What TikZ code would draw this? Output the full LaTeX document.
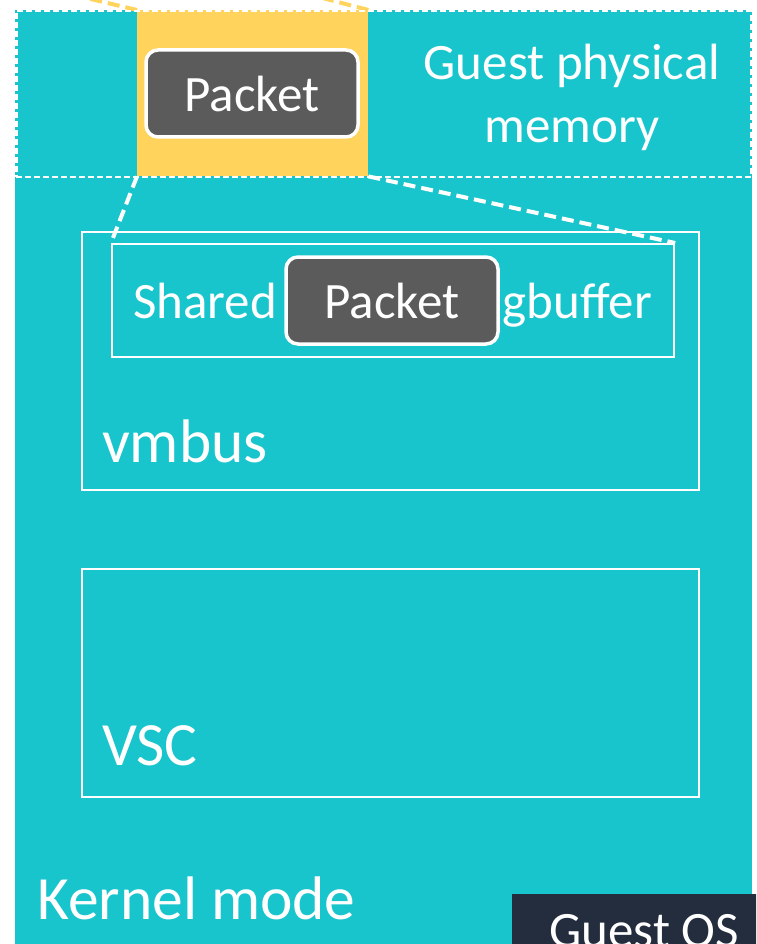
\documentclass[tikz,border=0pt]{standalone}
\usepackage{fontspec}
\setmainfont{Carlito}
\definecolor{vmteal}{RGB}{25,197,204}
\definecolor{vmyellow}{RGB}{255,211,92}
\definecolor{pktgray}{RGB}{91,91,91}
\definecolor{osnavy}{RGB}{36,45,62}
\tikzset{
  box/.style={draw=white, line width=2.2pt, inner sep=0pt, anchor=north west},
  packetbox/.style={rounded corners=12pt, fill=pktgray, draw=white, line width=3.5pt,
    minimum width=212pt, minimum height=87pt, inner sep=0pt, text=white,
    text height=36pt, text depth=0pt, font=\fontsize{51}{51}\selectfont},
  bigtxt/.style={text=white, inner sep=0pt, anchor=base west, font=\fontsize{61.5}{61.5}\selectfont},
  midtxt/.style={text=white, inner sep=0pt, font=\fontsize{51}{63}\selectfont},
  mapline/.style={draw=white, line width=4pt, dash pattern=on 12pt off 6pt},
  pageline/.style={draw=vmyellow, line width=4pt, dash pattern=on 12pt off 6pt}
}
\begin{document}
\begin{tikzpicture}[x=1pt,y=-1pt]
\useasboundingbox (0,0) rectangle (756,944);
\fill[white] (0,0) rectangle (756,944);
\begin{scope}
\clip (0,0) rectangle (756,944);
% kernel-mode area of the guest
\fill[vmteal] (15,10) rectangle (752,960);
% mapped page in guest physical memory
\node[fill=vmyellow, inner sep=0pt, anchor=north west, minimum width=231pt, minimum height=166pt] (page) at (137,10) {};
\draw[pageline] (page.north west) -- (53,-10);
\draw[pageline] (page.north east) -- (292,-10);
% guest physical memory region
\node[draw=white, line width=2.5pt, dash pattern=on 6pt off 3pt, inner sep=0pt, anchor=north west,
  minimum width=735pt, minimum height=166pt] (gpm) at (15,10) {};
\node[midtxt, align=center, anchor=north] (gpmlbl) at (572,44) {Guest physical\\memory};
\node[packetbox] (pkt1) at (252,93.5) {Packet};
% vmbus and ring buffer
\node[box, minimum width=617pt, minimum height=258pt] (vmbus) at (81,231) {};
\node[bigtxt] (vmbuslbl) at (102,462) {vmbus};
\node[box, minimum width=562pt, minimum height=113pt] (ring) at (111,243) {};
\node[midtxt, anchor=base west] (ringl) at (133,318) {Shared};
\node[midtxt, anchor=base east] (ringr) at (652,318) {gbuffer};
\node[packetbox] (pkt2) at (392,300.5) {Packet};
\draw[mapline] (page.south west) -- (ring.north west);
\draw[mapline] (page.south east) -- (ring.north east);
% VSC
\node[box, minimum width=617pt, minimum height=228pt] (vsc) at (81,568) {};
\node[bigtxt] (vsclbl) at (102,765) {VSC};
\node[bigtxt] (kernel) at (37,919) {Kernel mode};
% guest OS tag, running off the lower edge
\node[fill=osnavy, text=white, inner sep=0pt, anchor=north west, minimum width=264pt, minimum height=70pt,
  text height=36pt, text depth=0pt, font=\fontsize{51}{51}\selectfont] (guestos) at (512,894) {Guest OS};
\end{scope}
\end{tikzpicture}
\end{document}
